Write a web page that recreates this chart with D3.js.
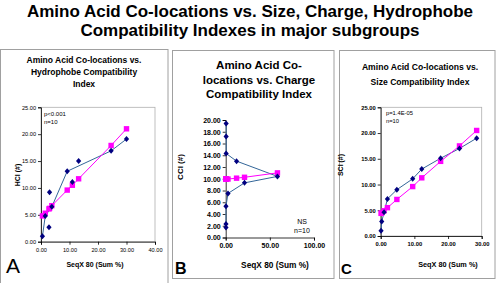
<!DOCTYPE html>
<html><head><meta charset="utf-8">
<script src="https://cdn.jsdelivr.net/npm/d3@7"></script>
<style>body{margin:0;background:#fff}svg{display:block;font-family:"Liberation Sans",Arial,sans-serif}</style>
</head><body><svg id="c" width="500" height="283"></svg>
<script>
const titleLines = ["Amino Acid Co-locations vs. Size, Charge, Hydrophobe", "Compatibility Indexes in major subgroups"];

// Panel A – Hydrophobe Compatibility Index
const seqA = [0.5, 1.5, 2.8, 3.0, 3.8, 9.2, 11.0, 13.2, 24.6, 30.0];
const hciObserved = [1.0, 4.8, 2.7, 9.2, 6.5, 13.1, 11.1, 15.0, 16.9, 19.1];
const hciFit = [4.8, 5.3, 6.1, 6.2, 6.7, 9.6, 10.5, 11.7, 17.9, 21.0];
const hciObservedLineIdx = [0, 1, 4, 5, 8, 9];
const hciXTicks = [0, 10, 20, 30, 40];
const hciYTicks = [0, 5, 10, 15, 20, 25];

// Panel B – Charge Compatibility Index
const seqB = [0.5, 0.5, 0.5, 12.3, 58.6, 21.3, 2.6, 0.3, 0.3, 0.3];
const cciObserved = [19.4, 17.2, 14.3, 13.0, 10.4, 9.3, 7.5, 5.3, 2.3, 1.7];
const cciFit = [9.95, 9.95, 9.95, 10.1, 11.0, 10.25, 9.95, 9.95, 9.95, 9.95];
const cciXTicks = [0, 50, 100];
const cciYTicks = [0, 2, 4, 6, 8, 10, 12, 14, 16, 18, 20];

// Panel C – Size Compatibility Index
const seqC = [0.1, 0.3, 1.0, 2.0, 4.8, 9.5, 12.2, 17.8, 23.4, 28.5];
const sciObserved = [1.0, 2.8, 4.6, 7.2, 9.0, 11.1, 13.0, 15.1, 17.0, 19.0];
const sciFit = [4.4, 4.5, 4.9, 5.5, 7.1, 9.6, 11.3, 14.5, 17.5, 20.5];
const sciXTicks = [0, 10, 20, 30];
const sciYTicks = [0, 5, 10, 15, 20, 25];

const svg = d3.select("#c");
const BLUE_MARK = "#000080", BLUE_LINE = "#336699", PINK = "#FF00FF";

// main title
svg.append("g").selectAll("text").data(titleLines).join("text")
  .attr("x", 250).attr("y", (d, i) => 17 + i * 19.2)
  .attr("text-anchor", "middle").attr("font-weight", "bold").attr("font-size", 17)
  .attr("fill", "#000").text(d => d);

function panel(c) {
  const g = svg.append("g");
  g.append("rect").attr("x", c.box[0]).attr("y", c.box[1]).attr("width", c.box[2]).attr("height", c.box[3])
    .attr("fill", "none").attr("stroke", "#a0a0a0").attr("stroke-width", 1);
  g.append("g").selectAll("text").data(c.title).join("text")
    .attr("x", c.titleX).attr("y", (d, i) => c.titleY + i * c.titleGap)
    .attr("text-anchor", "middle").attr("font-weight", "bold").attr("font-size", c.titleSize).text(d => d);

  const x = d3.scaleLinear().domain(c.xDomain).range(c.xRange);
  const y = d3.scaleLinear().domain(c.yDomain).range(c.yRange);
  if (c.frame) {
    g.append("rect").attr("x", c.xRange[0]).attr("y", c.yRange[1])
      .attr("width", c.xRange[1] - c.xRange[0]).attr("height", c.yRange[0] - c.yRange[1])
      .attr("fill", "none").attr("stroke", "#b0b0b0").attr("stroke-width", 0.8);
  }
  const xa = g.append("g").attr("transform", `translate(0,${c.yRange[0]})`)
    .call(d3.axisBottom(x).tickValues(c.xTicks).tickFormat(d3.format(".2f")).tickSize(3).tickPadding(3));
  const ya = g.append("g").attr("transform", `translate(${c.xRange[0]},0)`)
    .call(d3.axisLeft(y).tickValues(c.yTicks).tickFormat(d3.format(".2f")).tickSize(3).tickPadding(2));
  [xa, ya].forEach(a => {
    a.select(".domain").attr("stroke", "#000").attr("stroke-width", 0.8);
    a.selectAll(".tick line").attr("stroke", "#000").attr("stroke-width", 0.8);
    a.selectAll(".tick text").attr("font-size", c.tickSize).attr("font-weight", c.tickWeight)
      .attr("font-family", '"Liberation Sans",Arial,sans-serif').attr("fill", "#000");
  });

  const line = d3.line().x(d => x(d[0])).y(d => y(d[1]));
  const fitPts = c.xs.map((v, i) => [v, c.fit[i]]).sort((a, b) => a[0] - b[0]);
  const obsPts = c.xs.map((v, i) => [v, c.obs[i]]);
  const obsLine = c.obsLineIdx ? c.obsLineIdx.map(i => obsPts[i]) : obsPts;

  g.append("path").attr("d", line(obsLine)).attr("fill", "none").attr("stroke", BLUE_LINE).attr("stroke-width", 1);
  g.append("path").attr("d", line(fitPts)).attr("fill", "none").attr("stroke", PINK).attr("stroke-width", 1);
  g.append("g").selectAll("rect").data(fitPts).join("rect")
    .attr("x", d => x(d[0]) - 2.7).attr("y", d => y(d[1]) - 2.7).attr("width", 5.4).attr("height", 5.4).attr("fill", PINK);
  g.append("g").selectAll("path").data(obsPts).join("path")
    .attr("transform", d => `translate(${x(d[0])},${y(d[1])})`)
    .attr("d", "M0,-3L2.6,0L0,3L-2.6,0Z").attr("fill", BLUE_MARK);

  g.append("text").attr("x", c.xLabel[0]).attr("y", c.xLabel[1]).attr("text-anchor", "middle")
    .attr("font-weight", "bold").attr("font-size", c.xLabel[2]).text("SeqX 80 (Sum %)");
  g.append("text").attr("transform", `translate(${c.yLabel[0]},${c.yLabel[1]}) rotate(-90)`).attr("text-anchor", "middle")
    .attr("font-weight", "bold").attr("font-size", c.yLabel[2]).text(c.yText);
  g.append("g").selectAll("text").data(c.notes).join("text")
    .attr("x", c.noteX).attr("y", (d, i) => c.noteY + i * c.noteGap).attr("text-anchor", c.noteAnchor)
    .attr("font-size", c.noteSize).text(d => d);
  g.append("text").attr("x", c.letter[0]).attr("y", c.letter[1]).attr("font-size", c.letter[2])
    .attr("font-weight", c.letter[3]).text(c.letterText);
}

panel({
  box: [0.5, 49.5, 167.5, 245], title: ["Amino Acid Co-locations vs.", "Hydrophobe Compatibility", "Index"],
  titleX: 84, titleY: 63, titleGap: 12, titleSize: 8.5,
  xDomain: [0, 40], xRange: [41, 155], yDomain: [0, 25], yRange: [241.7, 107.3], frame: true,
  xTicks: hciXTicks, yTicks: hciYTicks, tickSize: 5.6, tickWeight: "normal",
  xs: seqA, obs: hciObserved, fit: hciFit, obsLineIdx: hciObservedLineIdx,
  xLabel: [95, 267, 7], yLabel: [20, 175, 7], yText: "HCI (#)",
  notes: ["p<0.001", "n=10"], noteX: 44, noteY: 116, noteGap: 7.5, noteAnchor: "start", noteSize: 6,
  letter: [6, 273, 21, "normal"], letterText: "A"
});

panel({
  box: [172.5, 50.5, 161.5, 228], title: ["Amino Acid Co-", "locations vs. Charge", "Compatibility Index"],
  titleX: 259, titleY: 69, titleGap: 14.5, titleSize: 11.5,
  xDomain: [0, 100], xRange: [225.7, 314], yDomain: [0, 20], yRange: [237.5, 120], frame: false,
  xTicks: cciXTicks, yTicks: cciYTicks, tickSize: 7, tickWeight: "bold",
  xs: seqB, obs: cciObserved, fit: cciFit,
  xLabel: [275, 268, 8.3], yLabel: [183, 167, 8], yText: "CCI (#)",
  notes: ["NS", "n=10"], noteX: 302, noteY: 224, noteGap: 9, noteAnchor: "middle", noteSize: 7,
  letter: [175, 274, 16, "bold"], letterText: "B"
});

panel({
  box: [339.5, 50.5, 155.5, 228], title: ["Amino Acid Co-locations vs.", "Size Compatibility Index"],
  titleX: 420, titleY: 70, titleGap: 14.5, titleSize: 8.6,
  xDomain: [0, 30], xRange: [380.7, 481.7], yDomain: [0, 25], yRange: [236, 107.3], frame: true,
  xTicks: sciXTicks, yTicks: sciYTicks, tickSize: 5.8, tickWeight: "bold",
  xs: seqC, obs: sciObserved, fit: sciFit,
  xLabel: [448, 267, 7.3], yLabel: [343, 165, 7], yText: "SCI (#)",
  notes: ["p=1.4E-05", "n=10"], noteX: 386, noteY: 115, noteGap: 7.5, noteAnchor: "start", noteSize: 5.8,
  letter: [341, 274, 15, "bold"], letterText: "C"
});
</script></body></html>
